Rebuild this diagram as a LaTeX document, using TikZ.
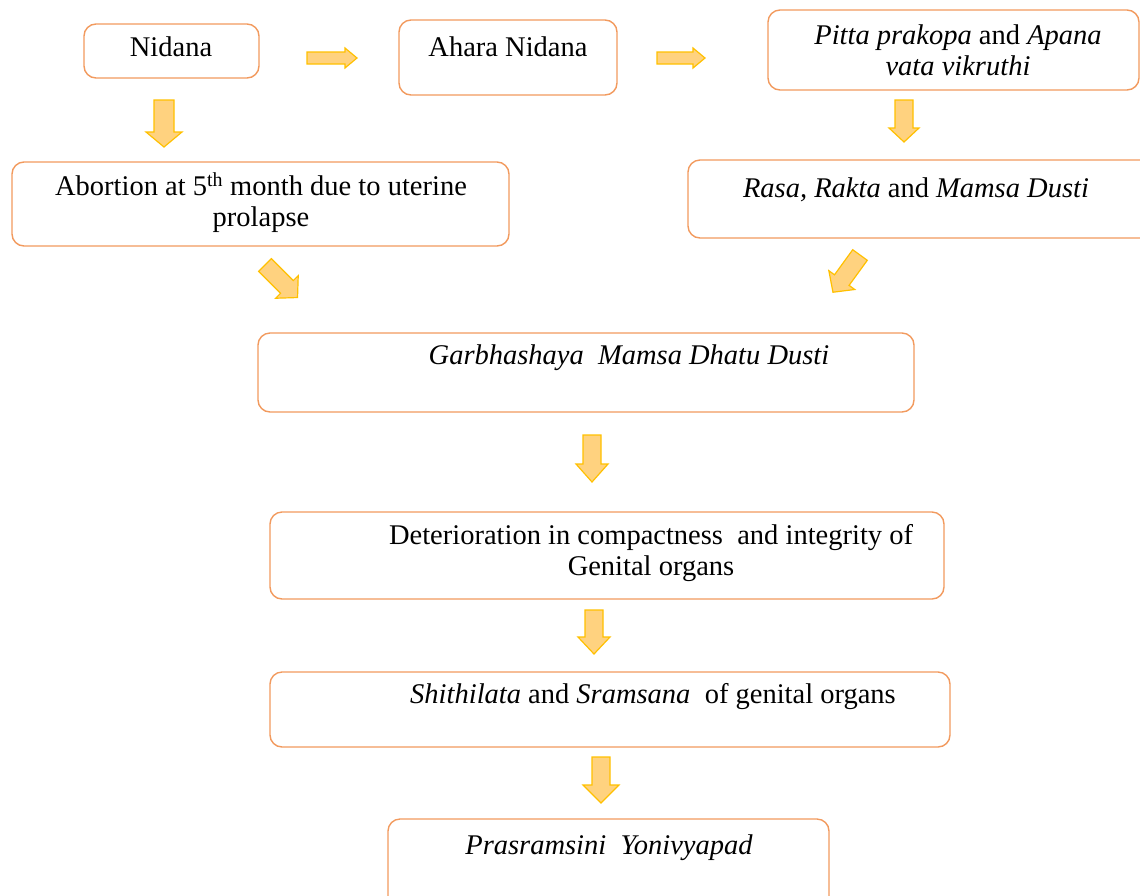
\documentclass[tikz,border=0pt]{standalone}
\usepackage{fontspec}
\setmainfont{Liberation Serif}
\definecolor{boxline}{HTML}{F29A5E}
\definecolor{arrfill}{HTML}{FFD27F}
\definecolor{arrline}{HTML}{FFC000}
\tikzset{
  box/.style={draw=boxline, line width=1.4pt, rounded corners=12pt, fill=white},
  lbl/.style={font=\fontsize{28.5}{31}\selectfont, align=center, inner sep=0pt, anchor=center},
  barrowstyle/.style={fill=arrfill, draw=arrline, line width=1.2pt, line join=miter},
}
% \blockarr{x}{y}{angle}{length}{shaft half}{head half}{head length}
\newcommand{\blockarr}[7]{%
  \begin{scope}[shift={(#1,#2)}, rotate=#3]
    \draw[barrowstyle] (0,-#5) -- ({#4-#7},-#5) -- ({#4-#7},-#6) -- (#4,0) -- ({#4-#7},#6) -- ({#4-#7},#5) -- (0,#5) -- cycle;
  \end{scope}}
\begin{document}
\begin{tikzpicture}[x=1pt,y=-1pt]
\useasboundingbox (0,0) rectangle (1140,895);
\begin{scope}
\clip (0,0) rectangle (1140,895);
% boxes
\draw[box] (84,24) rectangle (259,78) node[midway] (nid) {};
\draw[box] (399,20) rectangle (617,95) node[midway] (aha) {};
\draw[box] (768,10) rectangle (1139,90) node[midway] (pit) {};
\draw[box] (688,160) rectangle (1160,238) node[midway] (ras) {};
\draw[box] (12,162) rectangle (509,246) node[midway] (abo) {};
\draw[box] (258,333) rectangle (914,412) node[midway] (gar) {};
\draw[box] (270,512) rectangle (944,599) node[midway] (det) {};
\draw[box] (270,672) rectangle (950,747) node[midway] (shi) {};
\draw[box] (388,819) rectangle (829,910) node[midway] (pra) {};
% texts
\node[lbl] (nidt) at (171,47) {Nidana};
\node[lbl] (ahat) at (508,47) {Ahara Nidana};
\node[lbl] (pitt) at (958,50) {\textit{Pitta prakopa} and \textit{Apana}\\\textit{vata vikruthi}};
\node[lbl] (rast) at (916,190) {\textit{Rasa, Rakta} and \textit{Mamsa Dusti}};
\node[lbl] (abot) at (261,203) {Abortion at 5\textsuperscript{th} month due to uterine\\prolapse};
\node[lbl] (gart) at (629,358) {\textit{Garbhashaya\ \ Mamsa Dhatu Dusti}};
\node[lbl] (dett) at (651,553) {Deterioration in compactness\ \ and integrity of\\Genital organs};
\node[lbl] (shit) at (653,697) {\textit{Shithilata} and \textit{Sramsana}\ \ of genital organs};
\node[lbl] (prat) at (609,848) {\textit{Prasramsini\ \ Yonivyapad}};
% block arrows
\blockarr{307}{58}{0}{50}{6}{10}{12}
\blockarr{657}{58}{0}{48}{6}{10}{12}
\blockarr{164}{100}{-90}{47}{10}{18}{15}
\blockarr{904}{100}{-90}{42}{9}{15}{14}
\blockarr{265}{265}{-45}{46}{9}{16}{15}
\blockarr{860}{255}{-126}{46}{9}{16}{15}
\blockarr{592}{435}{-90}{47}{9}{16}{18}
\blockarr{594}{610}{-90}{44}{9}{16}{17}
\blockarr{601}{757}{-90}{46}{9}{18}{18}
\end{scope}
\end{tikzpicture}
\end{document}
